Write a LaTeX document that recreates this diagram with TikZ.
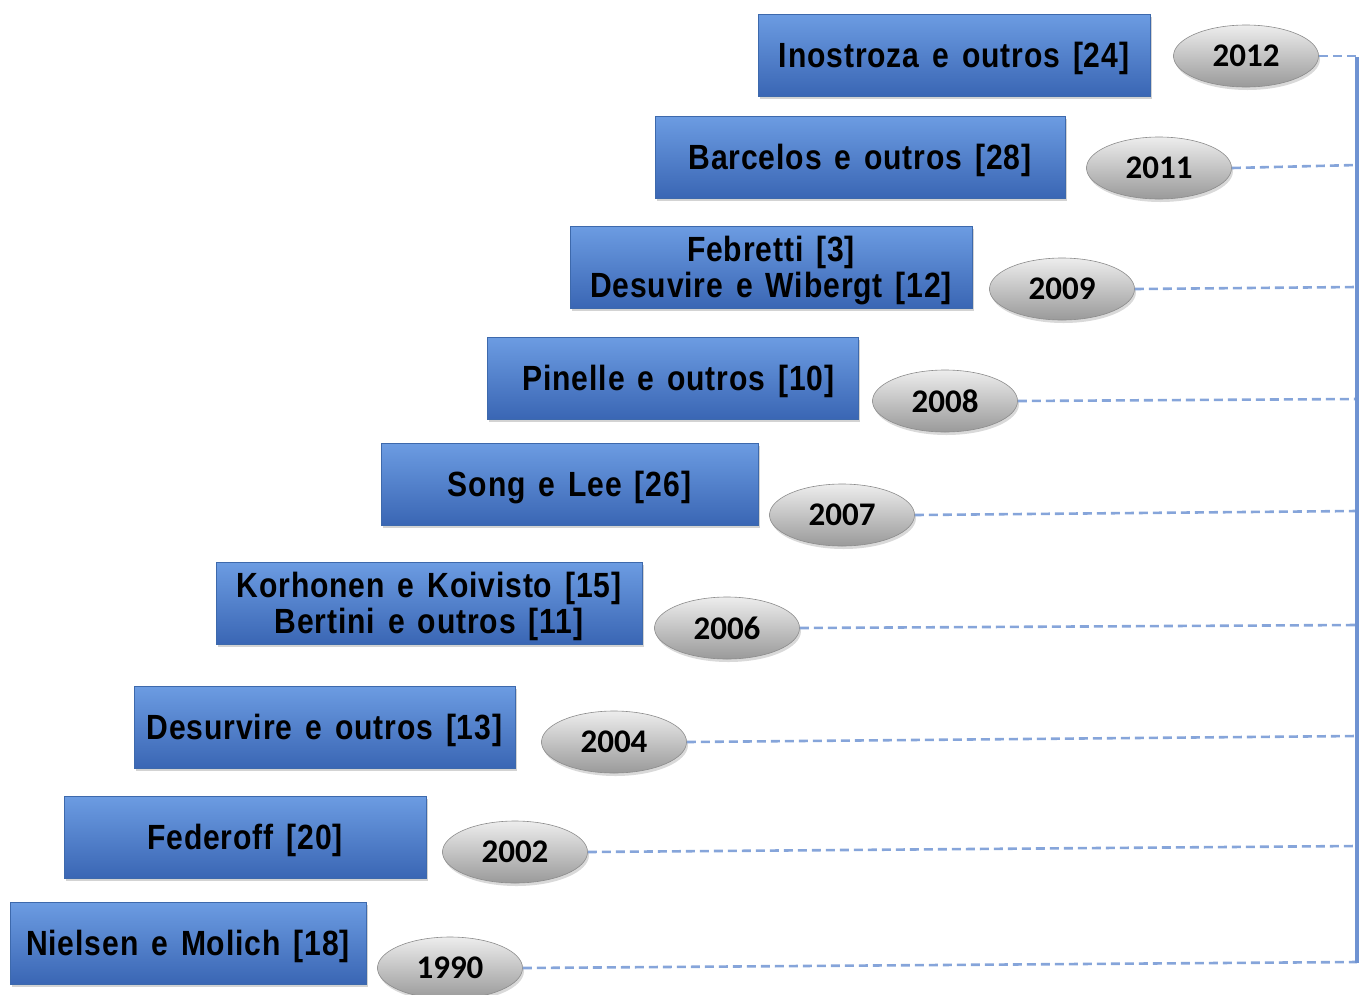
\documentclass[tikz,border=0pt]{standalone}
\usepackage{fontspec}
\setmainfont{Liberation Sans}
\newfontfamily\boxfont[FakeStretch=0.86,LetterSpace=2.5,WordSpace=1.4,UprightFont=* Bold]{Liberation Sans}
\newfontfamily\yearfont[UprightFont=* Bold]{Carlito}
\usetikzlibrary{shapes.geometric,shadows}
\definecolor{boxtop}{HTML}{6C9CE2}
\definecolor{boxbot}{HTML}{3A66B4}
\definecolor{boxline}{HTML}{3D69AC}
\definecolor{elltop}{HTML}{EDEDED}
\definecolor{ellbot}{HTML}{9A9A9A}
\definecolor{ellline}{HTML}{8C8C8C}
\definecolor{dashc}{HTML}{86A5DA}
\definecolor{vlinec}{HTML}{6F93D2}
\begin{document}
\begin{tikzpicture}[x=1pt,y=-1pt,
  refbox/.style={rectangle, top color=boxtop, bottom color=boxbot, draw=boxline, line width=0.8pt,
    minimum height=82pt, inner sep=0pt, align=center, text depth=0pt,
    font=\boxfont\fontsize{35}{36}\selectfont, text=black,
    drop shadow={opacity=0.35, shadow xshift=2pt, shadow yshift=-3pt}},
  yearell/.style={ellipse, top color=elltop, bottom color=ellbot, draw=ellline, line width=0.6pt,
    minimum width=145pt, minimum height=62pt, inner sep=0pt,
    font=\yearfont\fontsize{33}{33}\selectfont, text=black,
    drop shadow={opacity=0.3, shadow xshift=1.5pt, shadow yshift=-3pt}},
  link/.style={dashc, dash pattern=on 9pt off 5pt, line width=2.6pt},
  axis/.style={vlinec, line width=3.5pt}
]
\useasboundingbox (0,0) rectangle (1363,994);
% boxes
\node[refbox, minimum width=392pt] (b1) at (954,55) {Inostroza e outros [24]};
\node[refbox, minimum width=410pt] (b2) at (860,157) {Barcelos e outros [28]};
\node[refbox, minimum width=402pt] (b3) at (771,267) {Febretti [3]\\Desuvire e Wibergt [12]};
\node[refbox, minimum width=371pt] (b4) at (672.5,378) {\hspace*{12pt}Pinelle e outros [10]};
\node[refbox, minimum width=377pt] (b5) at (569.5,484) {Song e Lee [26]};
\node[refbox, minimum width=426pt] (b6) at (429,603) {Korhonen e Koivisto [15]\\Bertini e outros [11]};
\node[refbox, minimum width=381pt] (b7) at (324.5,727) {Desurvire e outros [13]};
\node[refbox, minimum width=362pt] (b8) at (245,837) {Federoff [20]};
\node[refbox, minimum width=356pt] (b9) at (188,943) {Nielsen e Molich [18]};
% years
\node[yearell] (y1) at (1246,56) {2012};
\node[yearell] (y2) at (1159,168) {2011};
\node[yearell] (y3) at (1062,289) {2009};
\node[yearell] (y4) at (945,401) {2008};
\node[yearell] (y5) at (842,515) {2007};
\node[yearell] (y6) at (727,628) {2006};
\node[yearell] (y7) at (614,742) {2004};
\node[yearell] (y8) at (515,852) {2002};
\node[yearell] (y9) at (450,968) {1990};
% axis
\coordinate (t) at (1357,57);
\coordinate (bt) at (1357,963);
\coordinate (r1) at (1357,56);
\coordinate (r2) at (1357,165);
\coordinate (r3) at (1357,287);
\coordinate (r4) at (1357,399);
\coordinate (r5) at (1357,511);
\coordinate (r6) at (1357,625);
\coordinate (r7) at (1357,736);
\coordinate (r8) at (1357,846);
\coordinate (r9) at (1357,962);
\foreach \i in {1,...,9} {\draw[link] (y\i.east) -- (r\i);}
\draw[axis] (t) -- (bt);
\end{tikzpicture}
\end{document}
